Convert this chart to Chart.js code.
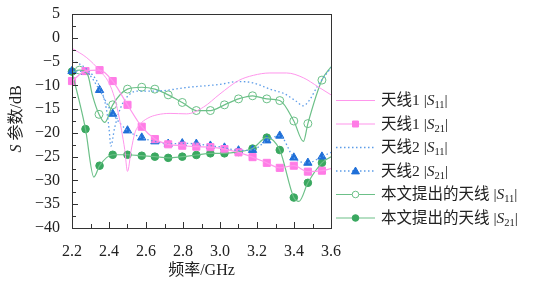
<!DOCTYPE html>
<html>
<head>
<meta charset="utf-8">
<script src="https://cdn.jsdelivr.net/npm/chart.js@4.4.0/dist/chart.umd.min.js"></script>
<style>
html, body { margin: 0; padding: 0; background: #fff; }
#wrap { width: 548px; height: 283px; }
</style>
</head>
<body>
<div id="wrap"><canvas id="sChart"></canvas></div>
<script>
// 频率 GHz / S 参数 dB
const markF = [2.2, 2.273, 2.349, 2.42, 2.50, 2.577, 2.648, 2.72, 2.796, 2.872, 2.948, 3.024, 3.1, 3.176, 3.253, 3.323, 3.399, 3.475, 3.551];

// 天线1 |S11| (no markers)
const ant1S11F = [2.2, 2.28, 2.35, 2.40, 2.43, 2.45, 2.468, 2.485, 2.50, 2.52, 2.54, 2.565, 2.61, 2.66, 2.73, 2.82, 2.91, 3.0, 3.1, 3.18, 3.27, 3.36, 3.45, 3.53, 3.6];
const ant1S11V = [-2.2, -4.2, -6.9, -9.5, -12.6, -15.8, -19.5, -23.5, -28.1, -23.6, -20, -18.3, -16.9, -16.2, -15.9, -16.0, -14.6, -11.8, -9.0, -7.9, -7.4, -7.4, -8.4, -10.3, -12];

// 天线1 |S21| (squares)
const ant1S21V = [-9.1, -7.0, -6.8, -9.1, -14.1, -18.7, -21.3, -22.4, -22.7, -22.9, -23.0, -23.4, -24.1, -25.1, -26.3, -27.35, -26.9, -28.15, -27.95];
const ant1S21ExtraF = [3.6];
const ant1S21ExtraV = [-27.5];

// 天线2 |S11| (dotted, no markers)
const ant2S11F = [2.2, 2.28, 2.35, 2.385, 2.40, 2.41, 2.43, 2.46, 2.49, 2.55, 2.65, 2.83, 3.0, 3.1, 3.18, 3.27, 3.35, 3.41, 3.45, 3.48, 3.53, 3.6];
const ant2S11V = [-4.7, -6.6, -10.3, -14.8, -19, -22.8, -19, -15, -12.8, -11.2, -11.2, -10.4, -9.8, -9.2, -9.5, -10.8, -11.8, -13.3, -14.3, -13.3, -10, -6.3];

// 天线2 |S21| (triangles)
const ant2S21V = [-7.0, -7.2, -11.0, -16.0, -19.5, -21.0, -21.8, -22.3, -22.2, -22.3, -22.7, -23.1, -23.7, -23.6, -21.6, -20.6, -25.2, -26.3, -25.0];
const ant2S21ExtraF = [3.6];
const ant2S21ExtraV = [-24.1];

// 本文提出的天线 |S11| (open circles)
const propS11MarkF = [2.24, 2.346, 2.42, 2.50, 2.577, 2.648, 2.72, 2.796, 2.872, 2.948, 3.024, 3.1, 3.176, 3.253, 3.323, 3.399, 3.475, 3.551];
const propS11MarkV = [-6.8, -16.1, -14.1, -10.8, -10.4, -10.8, -12.0, -13.6, -15.3, -15.3, -14.1, -12.85, -12.2, -12.85, -13.2, -17.5, -18.05, -8.9];
const propS11ExtraF = [2.2, 2.285, 2.31, 2.377, 3.451, 3.6];
const propS11ExtraV = [-7.3, -7.8, -12, -17.8, -21.8, -6.1];

// 本文提出的天线 |S21| (filled circles)
const propS21V = [-7.1, -19.2, -26.9, -24.6, -24.6, -24.8, -25.0, -25.25, -25.0, -24.65, -24.3, -24.3, -24.0, -23.3, -21.0, -23.6, -33.6, -30.5, -26.3];
const propS21ExtraF = [2.318, 3.427, 3.6];
const propS21ExtraV = [-29.3, -34.4, -25.0];

const xTicks = [2.2, 2.4, 2.6, 2.8, 3.0, 3.2, 3.4, 3.6];
const yTicks = [5, 0, -5, -10, -15, -20, -25, -30, -35, -40];

const PINK = '#ff7ce6', PINK_L = '#ff96ec';
const BLUE = '#1f6fd8', BLUE_L = '#5c9ce8';
const GREEN = '#3aa860', GREEN_L = '#6cc088';
const SERIF = "'Liberation Serif', 'Noto Sans CJK SC', serif";

function pts(f, v) {
    return f.map((x, i) => ({ x: x, y: v[i] }));
}
function merged(f1, v1, f2, v2) {
    return pts(f1, v1).concat(pts(f2, v2)).sort((a, b) => a.x - b.x);
}

function lineSet(data, color, width, dash) {
    return {
        data: data, showLine: true, borderColor: color, borderWidth: width,
        borderDash: dash || [], pointRadius: 0, cubicInterpolationMode: 'monotone', tension: 0.4
    };
}
function markSet(data, style, radius, fill, stroke) {
    return {
        data: data, showLine: false, pointStyle: style, pointRadius: radius,
        pointBackgroundColor: fill, pointBorderColor: stroke, pointBorderWidth: 1, clip: false
    };
}

const datasets = [
    lineSet(pts(ant1S11F, ant1S11V), PINK_L, 1),
    lineSet(merged(markF, ant1S21V, ant1S21ExtraF, ant1S21ExtraV), PINK_L, 1.2),
    lineSet(pts(ant2S11F, ant2S11V), BLUE_L, 1.3, [1.5, 2.5]),
    lineSet(merged(markF, ant2S21V, ant2S21ExtraF, ant2S21ExtraV), BLUE_L, 1.3, [1.5, 2.5]),
    lineSet(merged(propS11MarkF, propS11MarkV, propS11ExtraF, propS11ExtraV), GREEN_L, 1.2),
    lineSet(merged(markF, propS21V, propS21ExtraF, propS21ExtraV), GREEN_L, 1.2),
    markSet(pts(markF, ant1S21V), 'rect', 5, PINK, PINK),
    markSet(pts(markF, ant2S21V), 'triangle', 4.8, BLUE, BLUE),
    markSet(pts(propS11MarkF, propS11MarkV), 'circle', 4, '#fff', GREEN_L),
    markSet(pts(markF, propS21V), 'circle', 3.8, GREEN, GREEN)
];

function drawRich(ctx, segs, x, y, size, measureOnly) {
    let cx = x;
    segs.forEach(s => {
        const sz = s.sub ? size * 0.68 : size;
        ctx.font = (s.i ? 'italic ' : '') + sz + 'px ' + SERIF;
        if (!measureOnly) ctx.fillText(s.t, cx, y + (s.sub ? size * 0.28 : 0));
        cx += ctx.measureText(s.t).width;
    });
    return cx - x;
}

function drawMarker(ctx, style, x, y, r, fill, stroke) {
    ctx.save();
    ctx.fillStyle = fill;
    ctx.strokeStyle = stroke;
    ctx.lineWidth = 1;
    ctx.setLineDash([]);
    ctx.beginPath();
    if (style === 'rect') {
        ctx.rect(x - r, y - r, 2 * r, 2 * r);
    } else if (style === 'triangle') {
        ctx.moveTo(x, y - r * 1.1);
        ctx.lineTo(x + r * 1.1, y + r * 0.8);
        ctx.lineTo(x - r * 1.1, y + r * 0.8);
        ctx.closePath();
    } else {
        ctx.arc(x, y, r, 0, Math.PI * 2);
    }
    ctx.fill();
    ctx.stroke();
    ctx.restore();
}

const legendItems = [
    { line: 0, mark: null, text: [{ t: '天线1 |' }, { t: 'S', i: 1 }, { t: '11', sub: 1 }, { t: '|' }] },
    { line: 1, mark: ['rect', 3, PINK, PINK], text: [{ t: '天线1 |' }, { t: 'S', i: 1 }, { t: '21', sub: 1 }, { t: '|' }] },
    { line: 2, mark: null, text: [{ t: '天线2 |' }, { t: 'S', i: 1 }, { t: '11', sub: 1 }, { t: '|' }] },
    { line: 3, mark: ['triangle', 3.6, BLUE, BLUE], text: [{ t: '天线2 |' }, { t: 'S', i: 1 }, { t: '21', sub: 1 }, { t: '|' }] },
    { line: 4, mark: ['circle', 3.3, '#fff', GREEN_L], text: [{ t: '本文提出的天线 |' }, { t: 'S', i: 1 }, { t: '11', sub: 1 }, { t: '|' }] },
    { line: 5, mark: ['circle', 3.3, GREEN, GREEN], text: [{ t: '本文提出的天线 |' }, { t: 'S', i: 1 }, { t: '21', sub: 1 }, { t: '|' }] }
];

const decor = {
    id: 'decor',
    afterDraw(chart) {
        const ctx = chart.ctx;
        const a = chart.chartArea;
        const xs = chart.scales.x, ys = chart.scales.y;
        ctx.save();
        // frame
        ctx.strokeStyle = '#333';
        ctx.lineWidth = 1;
        ctx.strokeRect(Math.round(a.left) + 0.5, Math.round(a.top) + 0.5, Math.round(a.right - a.left), Math.round(a.bottom - a.top));
        // inward ticks, minor every 0.1 GHz / 2.5 dB
        ctx.beginPath();
        for (let k = 0; k <= 14; k++) {
            const px = Math.round(xs.getPixelForValue(2.2 + k * 0.1)) + 0.5;
            const len = k % 2 === 0 ? 6 : 4;
            ctx.moveTo(px, a.bottom);
            ctx.lineTo(px, a.bottom - len);
        }
        for (let k = 0; k <= 18; k++) {
            const py = Math.round(ys.getPixelForValue(-40 + k * 2.5)) + 0.5;
            const len = k % 2 === 0 ? 6 : 4;
            ctx.moveTo(a.left, py);
            ctx.lineTo(a.left + len, py);
        }
        ctx.stroke();

        ctx.fillStyle = '#222';
        ctx.textBaseline = 'middle';
        // x title
        const xt = [{ t: '频率/GHz' }];
        const xw = drawRich(ctx, xt, 0, 0, 16, true);
        drawRich(ctx, xt, (a.left + a.right) / 2 - xw / 2, 271, 16);
        // y title
        const yt = [{ t: 'S', i: 1 }, { t: ' 参数/dB' }];
        ctx.save();
        ctx.translate(17, (a.top + a.bottom) / 2 - 2);
        ctx.rotate(-Math.PI / 2);
        const yw = drawRich(ctx, yt, 0, 0, 16, true);
        drawRich(ctx, yt, -yw / 2, 0, 16);
        ctx.restore();

        // legend
        legendItems.forEach((it, i) => {
            const y = 100 + i * 23.5;
            const ds = chart.data.datasets[it.line];
            ctx.save();
            ctx.strokeStyle = ds.borderColor;
            ctx.lineWidth = ds.borderWidth;
            ctx.setLineDash(ds.borderDash);
            ctx.beginPath();
            ctx.moveTo(336, y + 0.5);
            ctx.lineTo(375, y + 0.5);
            ctx.stroke();
            ctx.restore();
            if (it.mark) drawMarker(ctx, it.mark[0], 355.5, y + 0.5, it.mark[1], it.mark[2], it.mark[3]);
            ctx.fillStyle = '#222';
            drawRich(ctx, it.text, 381, y + 1, 15.5);
        });
        ctx.restore();
    }
};

new Chart(document.getElementById('sChart'), {
    type: 'scatter',
    data: { datasets: datasets },
    options: {
        responsive: true,
        maintainAspectRatio: false,
        animation: false,
        layout: { padding: { top: 14, right: 217, left: 0, bottom: 0 } },
        plugins: { legend: { display: false }, tooltip: { enabled: false } },
        scales: {
            x: {
                type: 'linear', min: 2.2, max: 3.6,
                afterBuildTicks: s => { s.ticks = xTicks.map(v => ({ value: v })); },
                afterFit: s => { s.height = 55; },
                grid: { display: false },
                border: { display: false },
                ticks: {
                    padding: 6, color: '#222', maxRotation: 0, autoSkip: false,
                    font: { family: SERIF, size: 16 },
                    callback: v => Number(v).toFixed(1)
                }
            },
            y: {
                type: 'linear', min: -40, max: 5,
                afterBuildTicks: s => { s.ticks = yTicks.map(v => ({ value: v })); },
                afterFit: s => { s.width = 72; },
                grid: { display: false },
                border: { display: false },
                ticks: {
                    padding: 4, color: '#222', autoSkip: false,
                    font: { family: SERIF, size: 16 },
                    callback: v => v < 0 ? '\u2212' + Math.abs(v) : String(v)
                }
            }
        }
    },
    plugins: [decor]
});
</script>
</body>
</html>
